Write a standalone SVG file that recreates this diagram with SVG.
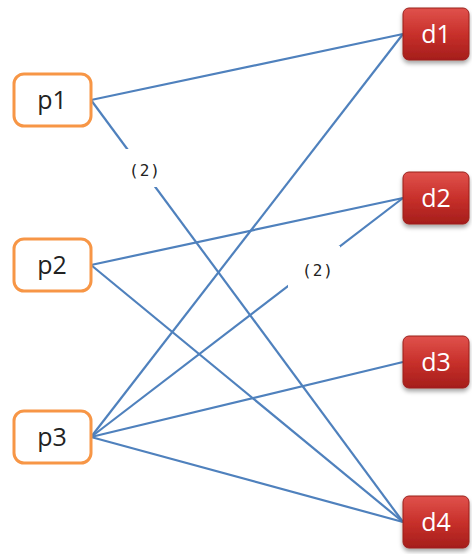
<svg xmlns="http://www.w3.org/2000/svg" width="472" height="554" viewBox="0 0 472 554">
  <style>
    .src rect { fill: #ffffff; stroke: #F79646; stroke-width: 3; }
    .src text { font-family: "Open Sans", "Liberation Sans", sans-serif; font-size: 25px; fill: #222222; text-anchor: middle; }
    .dst rect { fill: url(#redFill); stroke: #9a1f1c; stroke-width: 1; filter: url(#shadow); }
    .dst text { font-family: "Open Sans", "Liberation Sans", sans-serif; font-size: 25px; fill: #ffffff; text-anchor: middle; }
    #connectors line { stroke: #4F81BD; stroke-width: 2.2; }
    .lbl rect { fill: #ffffff; stroke: none; }
    .lbl text { font-family: "DejaVu Sans Mono", "Liberation Mono", monospace; font-size: 16px; letter-spacing: 1px; fill: #222222; text-anchor: middle; }
  </style>
  <defs>
    <linearGradient id="redFill" x1="0" y1="0" x2="0" y2="1">
      <stop offset="0" stop-color="#e0524c"/>
      <stop offset="0.5" stop-color="#c8302b"/>
      <stop offset="1" stop-color="#a51e1b"/>
    </linearGradient>
    <filter id="shadow" x="-20%" y="-20%" width="140%" height="150%">
      <feDropShadow dx="0" dy="3" stdDeviation="2" flood-color="#000000" flood-opacity="0.35"/>
    </filter>
  </defs>

  <rect width="472" height="554" fill="#ffffff"/>

  <g id="connectors">
    <line x1="91" y1="100" x2="403" y2="34"/>
    <line x1="91" y1="100" x2="403" y2="522"/>
    <line x1="91" y1="265" x2="403" y2="198"/>
    <line x1="91" y1="265" x2="403" y2="522"/>
    <line x1="91" y1="437" x2="403" y2="34"/>
    <line x1="91" y1="437" x2="403" y2="198"/>
    <line x1="91" y1="437" x2="403" y2="362"/>
    <line x1="91" y1="437" x2="403" y2="522"/>
  </g>

  <g id="label-p1-d4" class="lbl">
    <rect x="124" y="149" width="36" height="38"/>
    <text x="145" y="176">(2)</text>
  </g>
  <g id="label-p3-d2" class="lbl">
    <rect x="288" y="246" width="52" height="42"/>
    <text x="318" y="276">(2)</text>
  </g>

  <g id="p1" class="src">
    <rect x="14" y="74" width="77" height="52" rx="10"/>
    <text x="52" y="109">p1</text>
  </g>
  <g id="p2" class="src">
    <rect x="14" y="239" width="77" height="52" rx="10"/>
    <text x="52" y="274">p2</text>
  </g>
  <g id="p3" class="src">
    <rect x="14" y="411" width="77" height="52" rx="10"/>
    <text x="52" y="446">p3</text>
  </g>

  <g id="d1" class="dst">
    <rect x="403" y="8" width="66" height="52" rx="6"/>
    <text x="436" y="43">d1</text>
  </g>
  <g id="d2" class="dst">
    <rect x="403" y="172" width="66" height="52" rx="6"/>
    <text x="436" y="207">d2</text>
  </g>
  <g id="d3" class="dst">
    <rect x="403" y="336" width="66" height="52" rx="6"/>
    <text x="436" y="371">d3</text>
  </g>
  <g id="d4" class="dst">
    <rect x="403" y="496" width="66" height="52" rx="6"/>
    <text x="436" y="531">d4</text>
  </g>
</svg>
